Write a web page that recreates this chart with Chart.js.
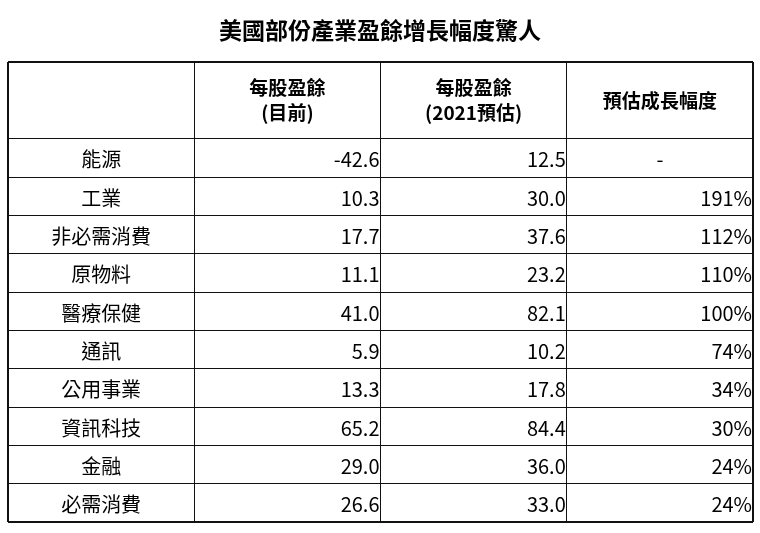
<!DOCTYPE html>
<html>
<head>
<meta charset="utf-8">
<script src="https://cdn.jsdelivr.net/npm/chart.js@4/dist/chart.umd.min.js"></script>
<style>
  body { margin: 0; background: #fff; }
  #wrap { width: 760px; height: 533px; }
</style>
</head>
<body>
<div id="wrap"><canvas id="tbl"></canvas></div>
<script>
const TITLE = '美國部份產業盈餘增長幅度驚人';
const headers = ['', '每股盈餘\n(目前)', '每股盈餘\n(2021預估)', '預估成長幅度'];
const sectors = ['能源', '工業', '非必需消費', '原物料', '醫療保健', '通訊', '公用事業', '資訊科技', '金融', '必需消費'];
const epsNow = ['-42.6', '10.3', '17.7', '11.1', '41.0', '5.9', '13.3', '65.2', '29.0', '26.6'];
const eps2021 = ['12.5', '30.0', '37.6', '23.2', '82.1', '10.2', '17.8', '84.4', '36.0', '33.0'];
const growth = ['-', '191%', '112%', '110%', '100%', '74%', '34%', '30%', '24%', '24%'];

const FONT = '"Noto Sans CJK TC", "Noto Sans", sans-serif';

const tablePlugin = {
  id: 'tableText',
  afterDraw(chart) {
    const ctx = chart.ctx;
    const x = chart.scales.x, y = chart.scales.y;
    ctx.save();
    ctx.fillStyle = '#000';
    ctx.textBaseline = 'middle';
    ctx.font = 'bold 23px ' + FONT;
    ctx.textAlign = 'center';
    ctx.fillText(TITLE, 380, 30);

    // header row (rows 0..2 on y)
    ctx.font = 'bold 19px ' + FONT;
    headers.forEach((h, c) => {
      const lines = h.split('\n');
      const cx = x.getPixelForValue(c + 0.5);
      const cy = y.getPixelForValue(1);
      lines.forEach((ln, i) => {
        ctx.fillText(ln, cx, cy + (i - (lines.length - 1) / 2) * 25);
      });
    });

    ctx.font = '20px ' + FONT;
    const cols = [epsNow, eps2021, growth];
    sectors.forEach((s, r) => {
      const cy = y.getPixelForValue(r + 2.55);
      ctx.textAlign = 'center';
      ctx.fillText(s, x.getPixelForValue(0.5), cy);
      cols.forEach((col, c) => {
        if (col[r] === '-') {
          ctx.textAlign = 'center';
          ctx.fillText(col[r], x.getPixelForValue(c + 1.5), cy);
        } else {
          ctx.textAlign = 'right';
          ctx.fillText(col[r], x.getPixelForValue(c + 2) - 1, cy);
        }
      });
    });
    ctx.restore();
  }
};

new Chart(document.getElementById('tbl'), {
  type: 'scatter',
  data: { datasets: [{ data: [] }] },
  options: {
    responsive: true,
    maintainAspectRatio: false,
    animation: false,
    layout: { padding: { left: 8, right: 7, top: 62, bottom: 11 } },
    plugins: { legend: { display: false }, tooltip: { enabled: false } },
    scales: {
      x: {
        type: 'linear', min: 0, max: headers.length,
        ticks: { display: false, stepSize: 1 },
        border: { display: false },
        grid: {
          drawTicks: false, color: '#111',
          lineWidth: c => (c.tick.value === 0 || c.tick.value === headers.length) ? 2 : 1
        }
      },
      y: {
        type: 'linear', min: 0, max: sectors.length + 2, reverse: true,
        afterBuildTicks: s => { s.ticks = s.ticks.filter(t => t.value !== 1); },
        ticks: { display: false, stepSize: 1 },
        border: { display: false },
        grid: {
          drawTicks: false, color: '#111',
          lineWidth: c => (c.tick.value === 0 || c.tick.value === sectors.length + 2) ? 2 : 1
        }
      }
    }
  },
  plugins: [tablePlugin]
});
</script>
</body>
</html>
